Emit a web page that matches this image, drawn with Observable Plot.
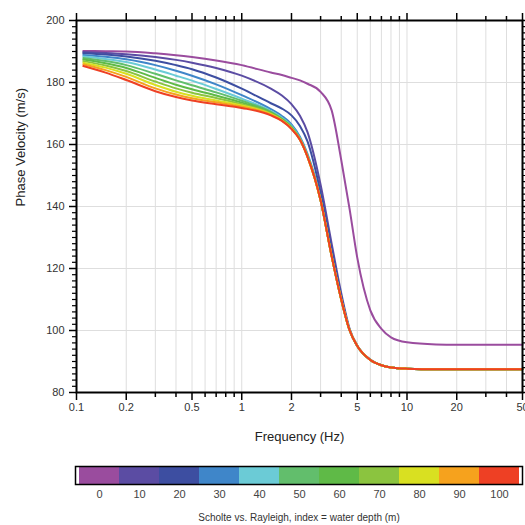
<!DOCTYPE html>
<html><head><meta charset="utf-8">
<script src="https://cdn.jsdelivr.net/npm/d3@7"></script>
<script src="https://cdn.jsdelivr.net/npm/@observablehq/plot@0.6"></script>
<style>body{margin:0;background:#fff;} svg{display:block}</style>
</head><body><div id="chart"></div>
<script>
// frequencies (Hz) at which the velocities were read
const freqs = [0.11, 0.15, 0.2, 0.3, 0.4, 0.5, 0.7, 1, 1.5, 1.75, 2, 2.25, 2.5, 3, 3.5, 4, 4.5, 5, 6, 7, 8, 10, 15, 20, 30, 50];
// water depths (m)
const depths = [0, 10, 20, 30, 40, 50, 60, 70, 80, 90, 100];
const colors = ["#9a4c9e", "#5b4ca3", "#3d4ea1", "#3f86c9", "#6bcbd6", "#62be6c", "#5fba47", "#8bc43f", "#d9e021", "#f6a21d", "#ee4024"];
// phase velocity (m/s) per depth
const vel0   = [190.2, 190.1, 190.0, 189.4, 188.8, 188.2, 187.1, 185.6, 183.2, 182.4, 181.5, 180.7, 179.6, 177.0, 171.0, 155.0, 139.0, 123.5, 106.5, 100.5, 97.8, 96.2, 95.5, 95.4, 95.4, 95.4];
const vel10  = [189.8, 189.5, 189.1, 188.2, 187.3, 186.4, 184.7, 182.2, 178.0, 175.8, 173.0, 169.3, 164.0, 147.0, 128.0, 112.0, 100.5, 95.2, 90.6, 88.8, 88.1, 87.7, 87.5, 87.5, 87.5, 87.5];
const vel20  = [189.4, 189.0, 188.4, 187.0, 185.6, 184.3, 181.6, 178.0, 173.3, 171.6, 169.4, 166.0, 161.0, 144.5, 126.0, 111.0, 100.0, 95.0, 90.5, 88.8, 88.1, 87.7, 87.5, 87.5, 87.5, 87.5];
const vel30  = [188.9, 188.3, 187.5, 185.6, 183.8, 182.2, 179.4, 175.9, 171.4, 169.2, 166.5, 162.5, 157.0, 142.5, 124.5, 110.3, 100.0, 95.0, 90.5, 88.8, 88.1, 87.7, 87.5, 87.5, 87.5, 87.5];
const vel40  = [188.4, 187.6, 186.6, 184.2, 182.2, 180.6, 177.9, 174.8, 170.8, 168.6, 166.0, 162.0, 156.5, 142.0, 124.0, 110.0, 100.0, 95.0, 90.5, 88.8, 88.1, 87.7, 87.5, 87.5, 87.5, 87.5];
const vel50  = [187.9, 186.9, 185.6, 182.8, 180.7, 179.1, 176.8, 174.1, 170.5, 168.3, 165.7, 161.8, 156.3, 142.0, 124.0, 110.0, 100.0, 95.0, 90.5, 88.8, 88.1, 87.7, 87.5, 87.5, 87.5, 87.5];
const vel60  = [187.4, 186.2, 184.7, 181.5, 179.3, 177.8, 175.8, 173.5, 170.2, 168.1, 165.5, 161.7, 156.2, 142.0, 124.0, 110.0, 100.0, 95.0, 90.5, 88.8, 88.1, 87.7, 87.5, 87.5, 87.5, 87.5];
const vel70  = [186.9, 185.5, 183.7, 180.3, 178.1, 176.7, 175.0, 173.0, 170.0, 167.9, 165.3, 161.6, 156.1, 142.0, 124.0, 110.0, 100.0, 95.0, 90.5, 88.8, 88.1, 87.7, 87.5, 87.5, 87.5, 87.5];
const vel80  = [186.4, 184.8, 182.8, 179.2, 177.0, 175.7, 174.2, 172.6, 169.8, 167.8, 165.2, 161.6, 156.0, 142.0, 124.0, 110.0, 100.0, 95.0, 90.5, 88.8, 88.1, 87.7, 87.5, 87.5, 87.5, 87.5];
const vel90  = [185.9, 184.0, 181.8, 178.1, 176.1, 174.9, 173.6, 172.2, 169.6, 167.7, 165.1, 161.5, 156.0, 142.0, 124.0, 110.0, 100.0, 95.0, 90.5, 88.8, 88.1, 87.7, 87.5, 87.5, 87.5, 87.5];
const vel100 = [185.3, 183.2, 180.8, 177.2, 175.3, 174.2, 173.0, 171.8, 169.4, 167.6, 165.0, 161.5, 156.0, 142.0, 124.0, 110.0, 100.0, 95.0, 90.5, 88.8, 88.1, 87.7, 87.5, 87.5, 87.5, 87.5];
// tick labels
const xMajor = [0.1, 0.2, 0.5, 1, 2, 5, 10, 20, 50];
const xMinor = [0.3, 0.4, 0.6, 0.7, 0.8, 0.9, 3, 4, 6, 7, 8, 9, 30, 40];
const yMajor = [80, 100, 120, 140, 160, 180, 200];
const xTitle = "Frequency (Hz)";
const yTitle = "Phase Velocity (m/s)";
const caption = "Scholte vs. Rayleigh, index = water depth (m)";

const series = [vel0, vel10, vel20, vel30, vel40, vel50, vel60, vel70, vel80, vel90, vel100];
const rows = series.flatMap((vals, i) => vals.map((v, j) => ({f: freqs[j], v, d: depths[i]})));
const xGrid = xMajor.concat(xMinor);
const yMinor = d3.range(82, 200, 2).filter(v => v % 20 !== 0);
const yGrid = yMajor.slice(1, -1);
const font = "'Liberation Sans', Arial, Helvetica, sans-serif";
const blank = () => "";

const main = Plot.plot({
  width: 525, height: 450,
  marginTop: 20, marginRight: 3, marginBottom: 58, marginLeft: 76,
  style: {fontFamily: font, fontSize: "11px", background: "#fff", color: "#000"},
  x: {type: "log", domain: [0.1, 50]},
  y: {domain: [80, 200]},
  color: {type: "ordinal", domain: depths, range: colors},
  marks: [
    Plot.gridX(xGrid, {stroke: "#dedede", strokeOpacity: 1}),
    Plot.gridY(yGrid, {stroke: "#dedede", strokeOpacity: 1}),
    Plot.line(rows, {x: "f", y: "v", z: "d", stroke: "d", strokeWidth: 2, curve: "monotone-x"}),
    Plot.frame({stroke: "#000", strokeWidth: 2}),
    Plot.axisX(xMajor, {anchor: "bottom", tickSize: 8, tickFormat: blank, label: null, stroke: "#000", strokeWidth: 1.5}),
    Plot.axisX(xMinor, {anchor: "bottom", tickSize: 5, tickFormat: blank, label: null, stroke: "#000", strokeWidth: 1.5}),
    Plot.text(xMajor, {x: d => d, frameAnchor: "bottom", dy: 18, text: d => String(d), fill: "#333", fontSize: 11}),
    Plot.axisX(xMajor, {anchor: "top", tickSize: 8, tickFormat: blank, label: null, stroke: "#000", strokeWidth: 1.5}),
    Plot.axisX(xMinor, {anchor: "top", tickSize: 5, tickFormat: blank, label: null, stroke: "#000", strokeWidth: 1.5}),
    Plot.axisY(yMajor, {anchor: "left", tickSize: 7, tickPadding: 5, label: null, fill: "#333", stroke: "#000", strokeWidth: 1.5}),
    Plot.axisY(yMinor, {anchor: "left", tickSize: 4, tickFormat: blank, label: null, stroke: "#000", strokeWidth: 1.2}),
    Plot.axisY(yMajor, {anchor: "right", tickSize: 7, tickFormat: blank, label: null, stroke: "#000", strokeWidth: 1.5}),
    Plot.axisY(yMinor, {anchor: "right", tickSize: 4, tickFormat: blank, label: null, stroke: "#000", strokeWidth: 1.2}),
    Plot.text([xTitle], {frameAnchor: "bottom", dy: 48, fontSize: 13, fill: "#222"}),
    Plot.text([yTitle], {frameAnchor: "left", dx: -56, rotate: -90, fontSize: 13, fill: "#222"})
  ]
});

const legend = Plot.plot({
  width: 525, height: 75,
  marginTop: 16, marginRight: 3, marginBottom: 41, marginLeft: 75,
  style: {fontFamily: font, fontSize: "11px", background: "#fff", color: "#000"},
  x: {type: "band", domain: depths, padding: 0},
  color: {type: "ordinal", domain: depths, range: colors},
  marks: [
    Plot.cell(depths, {x: d => d, fill: d => d}),
    Plot.frame({stroke: "#000", strokeWidth: 1.5}),
    Plot.axisX({tickSize: 0, tickPadding: 6, label: null, fill: "#444"}),
    Plot.text([caption], {frameAnchor: "bottom", dy: 36, fontSize: 10, fill: "#333"})
  ]
});

const root = document.getElementById("chart");
root.appendChild(main);
root.appendChild(legend);
</script>
</body></html>
